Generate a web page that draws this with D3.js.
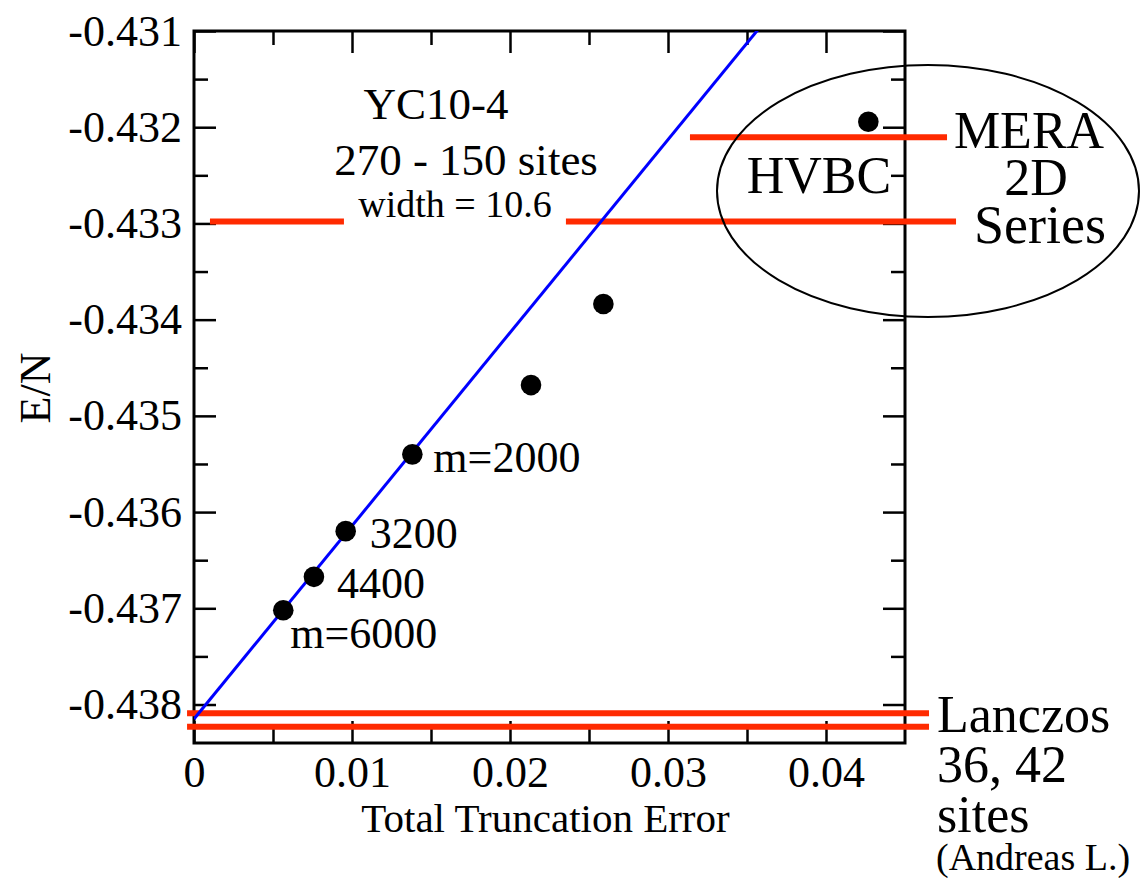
<!DOCTYPE html>
<html>
<head>
<meta charset="utf-8">
<script src="https://cdn.jsdelivr.net/npm/d3@7"></script>
<style>
  html, body { margin: 0; padding: 0; background: #fff; }
  svg { display: block; font-family: "Liberation Serif", "Times New Roman", serif; }
</style>
</head>
<body>
<svg id="chart" width="1141" height="878"></svg>
<script>
// DMRG energies per site vs. total truncation error (YC10-4 cylinder)
const bondDims = [6000, 4400, 3200, 2000, null, null];
const truncError = [0.00565, 0.00759, 0.00960, 0.01382, 0.02133, 0.02591];
const energy = [-0.43702, -0.436673, -0.436198, -0.435400, -0.434680, -0.433838];

// HVBC reference point
const hvbcPoint = [0.04268, -0.431943];

// linear extrapolation E(t) = intercept + slope * t
const fitIntercept = -0.43815;
const fitSlope = 0.2007;

// reference energies drawn as horizontal bars [value, xStart, xEnd]
const meraLine = [[-0.432105, 0.03139, 0.04766]];
const seriesLine = [[-0.43298, 0.00101, 0.00949], [-0.43298, 0.02354, 0.04823]];
const lanczosLines = [[-0.43809, -0.00044, 0.04652], [-0.43823, -0.00044, 0.04652]];

// axis ticks
const xMajorTicks = [0, 0.01, 0.02, 0.03, 0.04];
const xTickLabels = ["0", "0.01", "0.02", "0.03", "0.04"];
const xMinorTicks = [0.005, 0.015, 0.025, 0.035];
const yMajorTicks = [-0.438, -0.437, -0.436, -0.435, -0.434, -0.433, -0.432, -0.431];
const yTickLabels = ["-0.438", "-0.437", "-0.436", "-0.435", "-0.434", "-0.433", "-0.432", "-0.431"];
const yMinorTicks = [-0.4375, -0.4365, -0.4355, -0.4345, -0.4335, -0.4325, -0.4315];

const svg = d3.select("#chart");
const plot = { left: 194, top: 31, right: 905, bottom: 743 };

const x = d3.scaleLinear().domain([0, 0.045]).range([plot.left, plot.right]);
const y = d3.scaleLinear().domain([-0.4384, -0.431]).range([plot.bottom, plot.top]);

const red = "#ff2a00";
const tickFont = 44;

// --- axes: ticks point inward on all four sides ---
function styleAxis(g) {
  g.select(".domain").remove();
  g.selectAll(".tick line").attr("stroke", "#000").attr("stroke-width", 2.5);
  g.selectAll(".tick text").attr("fill", "#000").style("font-size", tickFont + "px")
    .style("font-family", '"Liberation Serif", "Times New Roman", serif');
}

// bottom
svg.append("g").attr("transform", `translate(0,${plot.bottom})`)
  .call(d3.axisBottom(x).tickValues(xMajorTicks).tickSize(-22).tickPadding(13)
    .tickFormat((d, i) => xTickLabels[i]))
  .call(styleAxis);
svg.append("g").attr("transform", `translate(0,${plot.bottom})`)
  .call(d3.axisBottom(x).tickValues(xMinorTicks).tickSize(-14).tickFormat(""))
  .call(styleAxis);
// top
svg.append("g").attr("transform", `translate(0,${plot.top})`)
  .call(d3.axisTop(x).tickValues(xMajorTicks).tickSize(-22).tickFormat(""))
  .call(styleAxis);
svg.append("g").attr("transform", `translate(0,${plot.top})`)
  .call(d3.axisTop(x).tickValues(xMinorTicks).tickSize(-14).tickFormat(""))
  .call(styleAxis);
// left
svg.append("g").attr("transform", `translate(${plot.left},0)`)
  .call(d3.axisLeft(y).tickValues(yMajorTicks).tickSize(-22).tickPadding(12)
    .tickFormat((d, i) => yTickLabels[i]))
  .call(styleAxis);
svg.append("g").attr("transform", `translate(${plot.left},0)`)
  .call(d3.axisLeft(y).tickValues(yMinorTicks).tickSize(-14).tickFormat(""))
  .call(styleAxis);
// right
svg.append("g").attr("transform", `translate(${plot.right},0)`)
  .call(d3.axisRight(y).tickValues(yMajorTicks).tickSize(-22).tickFormat(""))
  .call(styleAxis);
svg.append("g").attr("transform", `translate(${plot.right},0)`)
  .call(d3.axisRight(y).tickValues(yMinorTicks).tickSize(-14).tickFormat(""))
  .call(styleAxis);

// frame
svg.append("rect")
  .attr("x", plot.left).attr("y", plot.top)
  .attr("width", plot.right - plot.left).attr("height", plot.bottom - plot.top)
  .attr("fill", "none").attr("stroke", "#000").attr("stroke-width", 3);

// axis titles
svg.append("text")
  .attr("x", (plot.left + plot.right) / 2 - 4).attr("y", 832)
  .attr("text-anchor", "middle").style("font-size", "41px")
  .text("Total Truncation Error");
svg.append("text")
  .attr("transform", `translate(50,388) rotate(-90)`)
  .attr("text-anchor", "middle").style("font-size", "44px")
  .text("E/N");

// --- reference energy bars ---
const bars = [...meraLine, ...seriesLine, ...lanczosLines];
svg.append("g").selectAll("line").data(bars).join("line")
  .attr("x1", d => x(d[1])).attr("x2", d => x(d[2]))
  .attr("y1", d => y(d[0])).attr("y2", d => y(d[0]))
  .attr("stroke", red).attr("stroke-width", 6);

// --- linear fit, clipped to the plot area ---
svg.append("clipPath").attr("id", "plotClip")
  .append("rect").attr("x", plot.left).attr("y", plot.top)
  .attr("width", plot.right - plot.left).attr("height", plot.bottom - plot.top);
const fitXs = [0, 0.045];
svg.append("path")
  .attr("clip-path", "url(#plotClip)")
  .datum(fitXs.map(t => [t, fitIntercept + fitSlope * t]))
  .attr("d", d3.line().x(d => x(d[0])).y(d => y(d[1])))
  .attr("fill", "none").attr("stroke", "#0000ff").attr("stroke-width", 3);

// --- data points ---
const pts = truncError.map((t, i) => ({ t, e: energy[i], m: bondDims[i] }));
svg.append("g").selectAll("circle").data(pts).join("circle")
  .attr("cx", d => x(d.t)).attr("cy", d => y(d.e)).attr("r", 10.3)
  .attr("fill", "#000");
svg.append("circle")
  .attr("cx", x(hvbcPoint[0])).attr("cy", y(hvbcPoint[1])).attr("r", 10.3)
  .attr("fill", "#000");

// bond-dimension labels beside the points
const labelText = { 6000: "m=6000", 4400: "4400", 3200: "3200", 2000: "m=2000" };
const labelOffset = { 6000: [7, 38], 4400: [23, 21], 3200: [24, 17], 2000: [21, 18] };
svg.append("g").selectAll("text").data(pts.filter(d => d.m)).join("text")
  .attr("x", d => x(d.t) + labelOffset[d.m][0])
  .attr("y", d => y(d.e) + labelOffset[d.m][1])
  .style("font-size", "44px")
  .text(d => labelText[d.m]);

// system description
const desc = svg.append("g").attr("text-anchor", "middle");
desc.append("text").attr("x", 436).attr("y", 119).style("font-size", "45px").text("YC10-4");
desc.append("text").attr("x", 466).attr("y", 175).style("font-size", "45px").text("270 - 150 sites");
desc.append("text").attr("x", 455).attr("y", 217).style("font-size", "38px").text("width = 10.6");

// ellipse grouping the other methods
svg.append("ellipse")
  .attr("cx", 928).attr("cy", 191).attr("rx", 211).attr("ry", 126)
  .attr("fill", "none").attr("stroke", "#000").attr("stroke-width", 2);

const other = svg.append("g").style("font-size", "52px");
other.append("text").attr("x", 819).attr("y", 193).attr("text-anchor", "middle").text("HVBC");
other.append("text").attr("x", 1029).attr("y", 148).attr("text-anchor", "middle").text("MERA");
other.append("text").attr("x", 1036).attr("y", 195).attr("text-anchor", "middle").text("2D");
other.append("text").attr("x", 1040).attr("y", 243).attr("text-anchor", "middle")
  .style("font-size", "54px").text("Series");

// exact diagonalization note
const lz = svg.append("g").style("font-size", "52px");
lz.append("text").attr("x", 937).attr("y", 732).text("Lanczos");
lz.append("text").attr("x", 937).attr("y", 782).text("36, 42");
lz.append("text").attr("x", 937).attr("y", 832).text("sites");
svg.append("text").attr("x", 936).attr("y", 870).style("font-size", "38px").text("(Andreas L.)");
</script>
</body>
</html>
